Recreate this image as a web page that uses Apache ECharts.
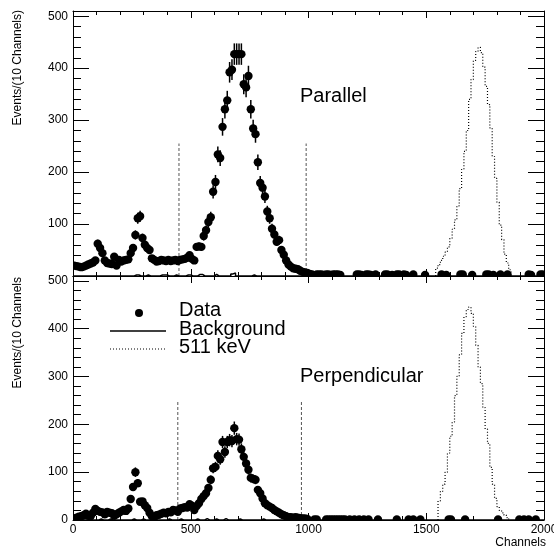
<!DOCTYPE html>
<html><head><meta charset="utf-8">
<script src="https://cdn.jsdelivr.net/npm/echarts@6/dist/echarts.min.js"></script>
<style>html,body{margin:0;padding:0;background:#fff}#c{width:554px;height:550px}</style>
</head><body><div id="c"></div>
<script>
// ---------------- data (counts per 10 channels) ----------------
const BIN = 10;
// Parallel: bins 0..990 (bin centres 5..995)
const topCounts = [20,19,18,17,18,20,22,24,26,30,
  62,54,44,30,25,24,23,37,20,31,
  28,30,31,32,44,54,79,111,115,73,
  60,54,50,34,31,28,29,31,30,29,
  31,29,30,31,29,31,32,33,35,40,
  33,30,56,57,56,77,88,104,113,162,
  181,234,227,287,321,338,392,397,427,427,
  427,427,369,363,385,321,284,273,219,179,
  170,153,124,111,91,80,66,69,50,41,
  30,22,18,15,14,13,10,8,7,6];
const topTailCh = [1005,1015,1035,1045,1055,1065,1075,1085,1095,1105,1115,1125,1135,1205,1215,1225,1245,1255,1265,1285,1325,1335,1355,1375,1385,1405,1415,1445,1495,1565,1585,1645,1655,1695,1755,1765,1785,1815,1845,1935,1945,1985,1995];
const topTailCounts = [4,3,3,3,3,2,3,3,2,3,3,3,2,3,3,2,3,3,2,3,3,3,2,3,3,3,2,3,2,3,2,3,3,2,3,3,2,3,3,3,2,3,3];
// Perpendicular
const botCounts = [3,5,7,8,10,13,9,8,15,23,
  19,17,16,12,17,15,14,9,12,15,
  18,21,19,24,44,69,100,77,38,39,
  31,25,15,8,6,10,11,13,15,14,
  17,16,21,20,17,24,25,27,26,33,
  30,21,29,35,44,50,56,67,84,108,
  111,134,127,163,142,163,167,165,192,169,
  168,148,132,118,105,88,86,84,63,56,
  45,35,31,28,25,21,18,15,12,10,
  8,6,6,5,6,5,4,3,3,2];
const botTailCh = [1025,1035,1075,1085,1095,1105,1115,1125,1135,1145,1155,1175,1195,1215,1235,1255,1295,1375,1425,1445,1475,1595,1605,1665,1805,1895,1915,1935,1965];
const botTailCounts = [1,1,1,1,1,1,1,1,1,1,1,1,1,1,1,1,1,1,1,1,1,1,1,1,1,1,1,1,1];
// Background histograms (bins 0..990, zero above)
const bgTop = [0,0,0,0,0,0,0,0,0,0, 0,0,0,0,0,0,0,0,0,0, 0,0,0,0,0,0,2,2,0,0,
  0,2,0,0,0,0,0,2,2,2, 0,0,0,2,0,0,0,0,2,2, 0,0,0,3,3,0,0,0,0,0,
  3,0,0,0,0,0,0,4,6,0, 0,0,0,0,0,0,2,0,0,0, 0,0,0,0,0,0,0,0,0,0, 0,0,0,0,0,0,0,0,0,0];
const bgBot = [0,0,0,0,0,0,0,0,0,0, 0,2,0,0,0,2,0,0,0,0, 0,0,0,0,0,2,0,0,0,2,
  0,0,0,2,0,0,0,0,0,0, 2,0,0,0,0,2,0,0,0,0, 0,0,2,0,0,0,3,0,0,0,
  2,0,0,0,3,0,0,0,0,0, 2,0,0,0,0,0,0,0,0,0, 2,0,0,0,0,0,0,0,0,0, 0,0,0,0,0,0,0,0,0,0];
// 511 keV reference histograms
const p511TopStart = 1540;
const p511Top = [15,22,30,38,46,56,72,90,108,135,168,205,240,280,340,378,415,432,440,430,402,365,330,285,230,188,142,98,70,42,25,12];
const p511BotStart = 1550;
const p511Bot = [40,60,75,100,140,175,205,260,300,345,390,425,440,445,432,405,365,320,285,235,190,160,110,75,45,28,20,15,10,5];
// Cut lines (channel positions, height)
const cutTop = [450, 990], cutTopHeight = 255;
const cutBot = [445, 970], cutBotHeight = 250;
// axis ticks
const X_MIN = 0, X_MAX = 2000, X_STEP = 500;
const Y_MIN = 0, Y_MAX = 510, Y_STEP = 100, Y_MINOR = 20;

// ---------------- helpers ----------------
const FONT = "'Liberation Sans', Arial, Helvetica, sans-serif";
const binCentres = (n) => Array.from({length: n}, (_, i) => i * BIN + BIN / 2);
const pairs = (xs, ys) => xs.map((x, i) => [x, ys[i]]);
function histSteps(start, vals, end) {
  const d = [[start, 0]];
  vals.forEach((v, i) => d.push([start + i * BIN, v]));
  d.push([start + vals.length * BIN, 0]);
  if (end !== undefined) d.push([end, 0]);
  return d;
}
function xAx(grid, pos, labels) {
  return {type: 'value', gridIndex: grid, position: pos, min: X_MIN, max: X_MAX, interval: X_STEP,
    axisLine: {show: true, onZero: false, lineStyle: {color: '#000', width: 1}},
    axisTick: {show: true, inside: true, length: 7, lineStyle: {color: '#000', width: 1}},
    minorTick: {show: true, splitNumber: 5, length: 4, lineStyle: {color: '#000', width: 1}},
    axisLabel: {show: labels, fontSize: 12, color: '#000', fontFamily: FONT, margin: 4,
      showMinLabel: true, showMaxLabel: true, formatter: (v) => String(v)},
    splitLine: {show: false}, minorSplitLine: {show: false}};
}
function yAx(grid, pos, step, len, labels, hideZero) {
  return {type: 'value', gridIndex: grid, position: pos, min: Y_MIN, max: Y_MAX, interval: step,
    axisLine: {show: step === Y_STEP, onZero: false, lineStyle: {color: '#000', width: 1}},
    axisTick: {show: true, inside: true, length: len, lineStyle: {color: '#000', width: 1}},
    axisLabel: {show: labels, fontSize: 12, color: '#000', fontFamily: FONT, margin: 5,
      showMaxLabel: true, showMinLabel: true,
      formatter: (v) => (v % Y_STEP !== 0 || (hideZero && v === 0)) ? '' : String(v)},
    splitLine: {show: false}};
}
function dataSeries(xi, yi, pts) {
  return {type: 'custom', xAxisIndex: xi, yAxisIndex: yi, clip: true, z: 5,
    encode: {x: 0, y: 1},
    data: pts,
    renderItem(params, api) {
      const x = api.value(0), y = api.value(1);
      const p = api.coord([x, y]);
      const e = Math.sqrt(y);
      const a = api.coord([x, y + e]), b = api.coord([x, y - e]);
      return {type: 'group', children: [
        {type: 'line', shape: {x1: p[0], y1: a[1], x2: p[0], y2: b[1]}, style: {stroke: '#000', lineWidth: 1.5}},
        {type: 'circle', shape: {cx: p[0], cy: p[1], r: 4.2}, style: {fill: '#000'}}
      ]};
    }};
}
function stepSeries(xi, yi, d, dash, w) {
  return {type: 'line', xAxisIndex: xi, yAxisIndex: yi, step: 'end', symbol: 'none', data: d,
    clip: true, z: 3, lineStyle: {color: '#000', width: w, type: dash}};
}
function cutSeries(xi, yi, ch, h) {
  return {type: 'line', xAxisIndex: xi, yAxisIndex: yi, symbol: 'none', data: [[ch, 0], [ch, h]],
    z: 2, lineStyle: {color: '#555', width: 1, type: [3, 2]}};
}

const topPts = pairs(binCentres(topCounts.length), topCounts).concat(pairs(topTailCh, topTailCounts));
const botPts = pairs(binCentres(botCounts.length), botCounts).concat(pairs(botTailCh, botTailCounts));

const chart = echarts.init(document.getElementById('c'), null, {renderer: 'canvas'});
const txt = (x, y, s, size, extra) => Object.assign({type: 'text', x, y, z: 10,
  style: {text: s, font: size + 'px ' + FONT, fill: '#000', align: 'left', verticalAlign: 'middle'}}, extra || {});

chart.setOption({
  animation: false,
  backgroundColor: '#fff',
  grid: [
    {left: 73, right: 10, top: 11, height: 265, outerBoundsMode: 'none', containLabel: false},
    {left: 73, right: 10, top: 276, height: 244, outerBoundsMode: 'none', containLabel: false}
  ],
  xAxis: [xAx(0, 'bottom', false), xAx(0, 'top', false), xAx(1, 'bottom', true), xAx(1, 'top', false)],
  yAxis: [
    yAx(0, 'left', Y_STEP, 16, true, true), yAx(0, 'left', Y_MINOR, 8, false),
    yAx(0, 'right', Y_STEP, 16, false), yAx(0, 'right', Y_MINOR, 8, false),
    yAx(1, 'left', Y_STEP, 16, true, false), yAx(1, 'left', Y_MINOR, 8, false),
    yAx(1, 'right', Y_STEP, 16, false), yAx(1, 'right', Y_MINOR, 8, false)
  ],
  series: [
    cutSeries(0, 0, cutTop[0], cutTopHeight), cutSeries(0, 0, cutTop[1], cutTopHeight),
    cutSeries(2, 4, cutBot[0], cutBotHeight), cutSeries(2, 4, cutBot[1], cutBotHeight),
    stepSeries(0, 0, histSteps(0, bgTop, X_MAX), 'solid', 1.5),
    stepSeries(2, 4, histSteps(0, bgBot, X_MAX), 'solid', 1.5),
    stepSeries(0, 0, histSteps(p511TopStart, p511Top), [1, 2], 1.2),
    stepSeries(2, 4, histSteps(p511BotStart, p511Bot), [1, 2], 1.2),
    dataSeries(0, 0, topPts),
    dataSeries(2, 4, botPts)
  ],
  graphic: [
    txt(18, 10, 'Events/(10 Channels)', 12, {rotation: Math.PI / 2, style: {text: 'Events/(10 Channels)', font: '12px ' + FONT, fill: '#000', align: 'right', verticalAlign: 'middle'}}),
    txt(18, 277, 'Events/(10 Channels', 12, {rotation: Math.PI / 2, style: {text: 'Events/(10 Channels', font: '12px ' + FONT, fill: '#000', align: 'right', verticalAlign: 'middle'}}),
    txt(546, 543, 'Channels', 12, {style: {text: 'Channels', font: '12px ' + FONT, fill: '#000', align: 'right', verticalAlign: 'middle'}}),
    txt(300, 96, 'Parallel', 20),
    txt(300, 376, 'Perpendicular', 20),
    {type: 'circle', z: 10, shape: {cx: 139, cy: 313, r: 4}, style: {fill: '#000'}},
    {type: 'line', z: 10, shape: {x1: 110, y1: 331, x2: 166, y2: 331}, style: {stroke: '#000', lineWidth: 1.5}},
    {type: 'line', z: 10, shape: {x1: 110, y1: 349, x2: 166, y2: 349}, style: {stroke: '#000', lineWidth: 1.2, lineDash: [1, 2]}},
    txt(179, 310, 'Data', 20),
    txt(179, 329, 'Background', 20),
    txt(179, 347, '511 keV', 20)
  ]
});
</script></body></html>
